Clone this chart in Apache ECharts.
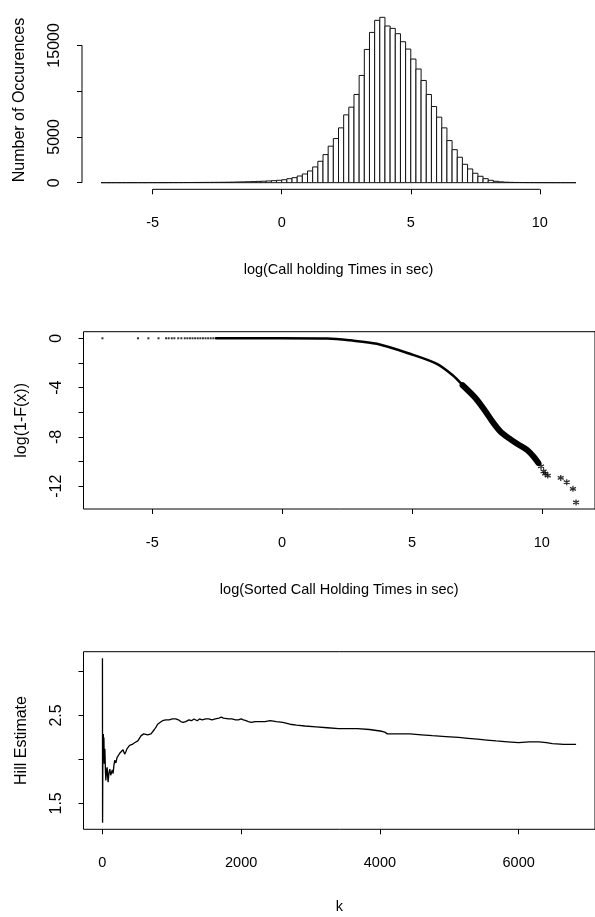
<!DOCTYPE html>
<html><head><meta charset="utf-8">
<script src="https://cdn.jsdelivr.net/npm/echarts@6/dist/echarts.min.js"></script>
<style>html,body{margin:0;padding:0;background:#fff}#c{width:595px;height:917px}</style>
</head><body><div id="c"></div>
<script>
// ---------- DATA ----------
// Histogram of log(call holding times): bins of width 0.2 starting at -7.0
const histBinStart = -7.0;
const histBinWidth = 0.2;
const histCounts = [
  3,1,2,1,2,3,2,4,3,5,6,5,8,10,12,15,18,20,25,28,32,36,40,45,52,60,75,90,105,120,140,160,190,220,260,
  320,440,550,730,950,1280,1720,2340,3070,3990,4820,5990,7410,8250,9640,11720,14560,16420,17740,18070,
  17120,16860,16280,15400,14600,13510,12420,11170,9640,8320,7160,5990,4600,3610,2780,2010,1500,1030,700,
  440,260,150,90,55,35,25,18,12,9,7,5,4,3,3,2,2,1
];
const histXTicks = [-5, 0, 5, 10];
const histYTicks = [0, 5000, 10000, 15000];
const histYLabels = [0, 5000, 15000];

// log(1-F(x)) vs log(sorted call holding times)
const sparseDotsX = [-6.92,-5.55,-5.15,-4.76,-4.47,-4.37,-4.25,-4.15,-4.0,-3.88,-3.75,-3.65,-3.55,-3.45,-3.35,-3.25,-3.15,-3.05,-2.95,-2.85,-2.75,-2.65];
const sparseDotsY = [0,0,0,0,0,0,0,0,0,0,0,0,0,0,0,0,0,0,0,0,0,0];
const curveX = [-2.55, 0, 1.75, 2.62, 3.65, 4.92, 5.94, 6.57, 6.95];
const curveY = [0, 0, -0.02, -0.17, -0.45, -1.26, -2.06, -3.0, -3.81];
const bandX = [6.95, 7.46, 7.84, 8.10, 8.41, 8.73, 9.11, 9.43, 9.68, 9.87];
const bandY = [-3.81, -4.88, -5.96, -6.76, -7.57, -8.10, -8.64, -9.04, -9.58, -10.11];
const starX = [9.97, 10.07, 10.13, 10.23, 10.73, 10.96, 11.20, 11.32];
const starY = [-10.39, -10.79, -10.97, -11.13, -11.32, -11.67, -12.21, -13.31];
const tailXTicks = [-5, 0, 5, 10];
const tailYTicks = [-12, -10, -8, -6, -4, -2, 0];
const tailYLabels = [-12, -8, -4, 0];

// Hill estimate vs k
const hillK = [1,3,6,10,14,18,22,28,36,45,50,60,69,76,83,95,107,120,131,143,155,166,178,195,211,230,250,275,297,321,340,354,375,392,430,464,490,511,535,559,580,597,625,654,680,701,725,749,775,796,830,868,915,963,1010,1058,1095,1130,1165,1201,1225,1248,1285,1320,1345,1367,1400,1438,1490,1534,1580,1629,1680,1715,1745,1772,1820,1866,1920,1961,2000,2033,2070,2104,2150,2200,2270,2342,2420,2508,2600,2703,2800,2919,3080,3243,3405,3540,3676,3850,4027,4070,4108,4250,4432,4600,4757,4950,5135,5270,5405,5540,5676,5840,6000,6150,6297,6400,6486,6650,6827];
const hillVal = [3.15,1.28,1.90,2.10,2.29,2.05,2.25,1.95,2.12,1.85,1.76,1.88,1.91,1.80,1.74,1.85,1.89,1.82,1.85,1.88,1.84,1.93,1.99,1.96,2.02,2.04,2.07,2.05,2.11,2.06,2.09,2.12,2.14,2.16,2.17,2.19,2.20,2.21,2.23,2.27,2.26,2.29,2.27,2.28,2.27,2.29,2.31,2.34,2.37,2.40,2.42,2.44,2.45,2.45,2.46,2.46,2.45,2.43,2.42,2.43,2.44,2.45,2.44,2.46,2.45,2.44,2.46,2.45,2.46,2.46,2.45,2.46,2.47,2.48,2.47,2.47,2.46,2.46,2.45,2.45,2.46,2.45,2.44,2.43,2.42,2.43,2.43,2.43,2.44,2.43,2.42,2.40,2.39,2.38,2.37,2.36,2.35,2.35,2.35,2.34,2.32,2.31,2.29,2.29,2.29,2.28,2.27,2.26,2.25,2.24,2.23,2.22,2.21,2.20,2.19,2.20,2.20,2.19,2.18,2.17,2.17];
const hillXTicks = [0, 2000, 4000, 6000];
const hillYTicks = [1.5, 2.0, 2.5, 3.0];
const hillYLabels = [1.5, 2.5];

// ---------- helpers ----------
function rRange(arr) { // R-style 4% extension
  let lo = Math.min.apply(null, arr), hi = Math.max.apply(null, arr);
  const e = (hi - lo) * 0.04;
  return [lo - e, hi + e];
}
const histRows = histCounts.map((c, i) => {
  const x0 = +(histBinStart + i * histBinWidth).toFixed(2);
  return [x0, +(x0 + histBinWidth).toFixed(2), c];
});
const histXR = rRange([histBinStart, histBinStart + histCounts.length * histBinWidth]);
const histYR = rRange([0].concat(histCounts));
const tailXR = rRange(sparseDotsX.concat(curveX, bandX, starX));
const tailYR = rRange(sparseDotsY.concat(curveY, bandY, starY));
const hillXR = rRange(hillK);
const hillYR = rRange(hillVal);
const zip = (a, b) => a.map((v, i) => [v, b[i]]);

const HFONT = "'Liberation Sans', Arial, sans-serif";
const VFONT = "'Liberation Sans', Arial, sans-serif";
const black = '#000';

function xAxisCfg(grid, range, ticks, name, gap) {
  return {
    type: 'value', gridIndex: grid, min: range[0], max: range[1],
    axisLine: { show: false, onZero: false }, splitLine: { show: false },
    axisTick: { show: true, customValues: ticks, length: 5, lineStyle: { color: black, width: 1 } },
    axisLabel: { customValues: ticks, margin: 26, color: black, fontSize: 14.5, fontFamily: HFONT, formatter: v => String(v) },
    name: name, nameLocation: 'middle', nameGap: gap,
    nameTextStyle: { color: black, fontSize: 14.5, fontFamily: HFONT }
  };
}
function yAxisCfg(grid, range, ticks, labels, name) {
  return {
    type: 'value', gridIndex: grid, min: range[0], max: range[1],
    axisLine: { show: false, onZero: false }, splitLine: { show: false },
    axisTick: { show: true, customValues: ticks, length: 5, lineStyle: { color: black, width: 1 } },
    axisLabel: { customValues: labels, rotate: 90, margin: 19, color: black, fontSize: 16, fontFamily: VFONT, formatter: v => String(v) },
    name: name, nameLocation: 'middle', nameGap: 54, nameRotate: 90,
    nameTextStyle: { color: black, fontSize: 16, fontFamily: VFONT }
  };
}

const starPath = 'path://M0,-5L0,5M-4.33,-2.5L4.33,2.5M-4.33,2.5L4.33,-2.5';

const option = {
  backgroundColor: '#fff',
  animation: false,
  grid: [
    { left: 82, top: 10.7, width: 518, height: 178.6, show: false },
    { left: 83.5, top: 331.7, width: 518, height: 177.3, show: true, borderColor: black, borderWidth: 1, backgroundColor: 'transparent' },
    { left: 83.5, top: 651.7, width: 518, height: 177.6, show: true, borderColor: black, borderWidth: 1, backgroundColor: 'transparent' }
  ],
  xAxis: [
    xAxisCfg(0, histXR, histXTicks, 'log(Call holding Times in sec)', 73),
    xAxisCfg(1, tailXR, tailXTicks, 'log(Sorted Call Holding Times in sec)', 73),
    xAxisCfg(2, hillXR, hillXTicks, 'k', 70)
  ],
  yAxis: [
    yAxisCfg(0, histYR, histYTicks, histYLabels, 'Number of Occurences'),
    yAxisCfg(1, tailYR, tailYTicks, tailYLabels, 'log(1-F(x))'),
    yAxisCfg(2, hillYR, hillYTicks, hillYLabels, 'Hill Estimate')
  ],
  series: [
    {
      type: 'custom', xAxisIndex: 0, yAxisIndex: 0, data: histRows, silent: true,
      renderItem: function (params, api) {
        const p0 = api.coord([api.value(0), api.value(2)]);
        const p1 = api.coord([api.value(1), 0]);
        return { type: 'rect', shape: { x: p0[0], y: p0[1], width: p1[0] - p0[0], height: p1[1] - p0[1] },
          style: { fill: '#fff', stroke: '#111', lineWidth: 1 } };
      }
    },
    { type: 'line', xAxisIndex: 0, yAxisIndex: 0, silent: true, clip: false, symbol: 'none',
      data: [[histXTicks[0], histYR[0]], [histXTicks[histXTicks.length - 1], histYR[0]]],
      lineStyle: { color: black, width: 1 } },
    { type: 'line', xAxisIndex: 0, yAxisIndex: 0, silent: true, clip: false, symbol: 'none',
      data: [[histXR[0], histYTicks[0]], [histXR[0], histYTicks[histYTicks.length - 1]]],
      lineStyle: { color: black, width: 1 } },
    { type: 'scatter', xAxisIndex: 1, yAxisIndex: 1, silent: true, symbol: 'rect', symbolSize: [2, 2],
      data: zip(sparseDotsX, sparseDotsY), itemStyle: { color: black } },
    { type: 'line', xAxisIndex: 1, yAxisIndex: 1, silent: true, symbol: 'none', smooth: 0.3,
      data: zip(curveX, curveY), lineStyle: { color: black, width: 2.5, cap: 'round' } },
    { type: 'line', xAxisIndex: 1, yAxisIndex: 1, silent: true, symbol: 'none', smooth: 0.3,
      data: zip(bandX, bandY), lineStyle: { color: black, width: 6, cap: 'round' } },
    { type: 'scatter', xAxisIndex: 1, yAxisIndex: 1, silent: true, symbol: starPath, symbolSize: 6,
      data: zip(starX, starY), itemStyle: { color: 'transparent', borderColor: '#000', borderWidth: 1.3 } },
    { type: 'line', xAxisIndex: 2, yAxisIndex: 2, silent: true, symbol: 'none',
      data: zip(hillK, hillVal), lineStyle: { color: black, width: 1.3 } }
  ]
};
const chart = echarts.init(document.getElementById('c'), null, { renderer: 'canvas' });
chart.setOption(option);
</script></body></html>
